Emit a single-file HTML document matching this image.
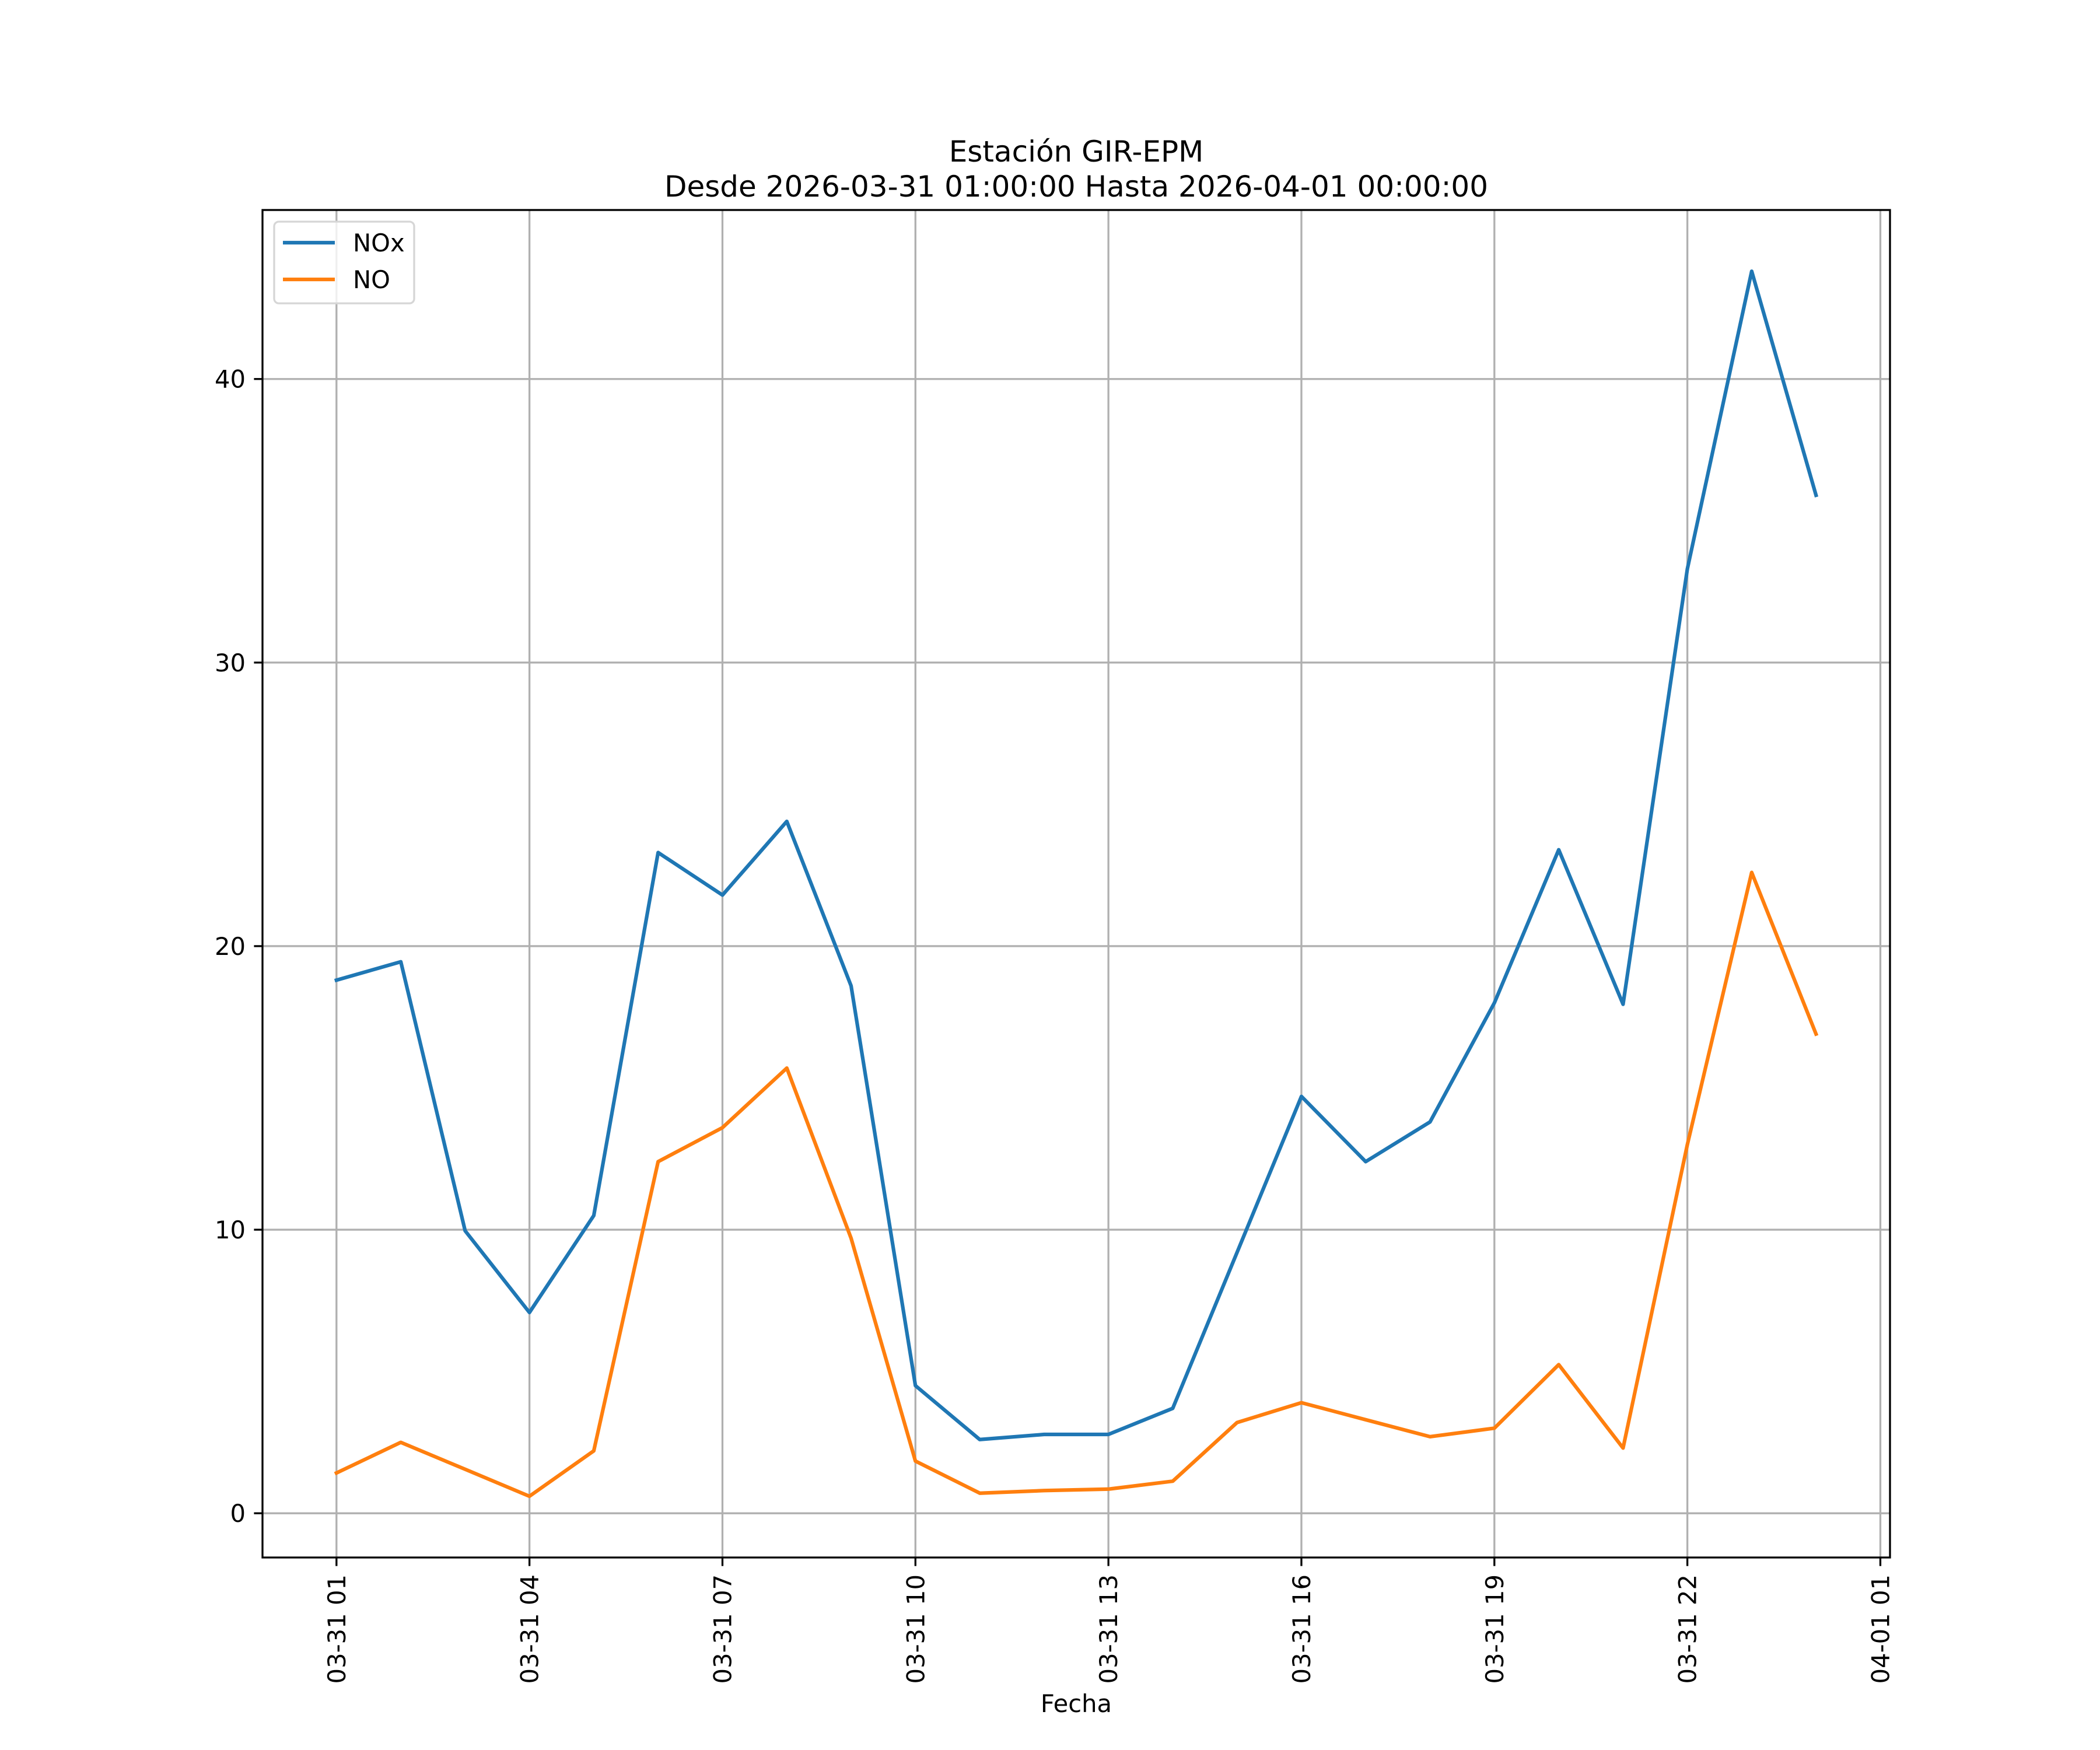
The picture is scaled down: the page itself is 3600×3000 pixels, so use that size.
<!DOCTYPE html>
<html><head><meta charset="utf-8"><style>
html,body{margin:0;padding:0;background:#fff;}
svg{display:block;font-family:"DejaVu Sans","Liberation Sans",sans-serif;}
</style></head><body>
<svg id="chart" width="3600" height="3000" viewBox="0 0 3600 3000">
<rect width="3600" height="3000" fill="#fff"/>
<text x="1845" y="277" font-size="50" text-anchor="middle">Estación GIR-EPM</text>
<text x="1845" y="337" font-size="50" text-anchor="middle">Desde 2026-03-31 01:00:00 Hasta 2026-04-01 00:00:00</text>
<g id="grid"></g>
<g id="series"></g>
<rect x="450" y="360" width="2790" height="2310" fill="none" stroke="#000" stroke-width="3.3"/>
<g id="ticks"></g>
<text x="1845" y="2935" font-size="41.7" text-anchor="middle">Fecha</text>
<g>
<rect x="470" y="380" width="240" height="140" rx="8" fill="#fff" fill-opacity="0.8" stroke="#d6d6d6" stroke-width="3.3"/>
<line x1="485" y1="416" x2="574" y2="416" stroke="#1f77b4" stroke-width="6.25"/>
<text x="605" y="431" font-size="41.7">NOx</text>
<line x1="485" y1="479" x2="574" y2="479" stroke="#ff7f0e" stroke-width="6.25"/>
<text x="605" y="494" font-size="41.7">NO</text>
</g>
</svg>
<script>
const hours = [0,1,2,3,4,5,6,7,8,9,10,11,12,13,14,15,16,17,18,19,20,21,22,23];
const noxValues = [18.8,19.45,9.96,7.08,10.5,23.3,21.8,24.4,18.6,4.5,2.6,2.78,2.78,3.7,9.2,14.7,12.4,13.8,18.0,23.4,17.95,33.3,43.8,35.9];
const noValues = [1.42,2.5,1.55,0.6,2.2,12.4,13.6,15.7,9.7,1.84,0.71,0.8,0.85,1.13,3.2,3.9,3.3,2.7,3.0,5.24,2.3,13.0,22.6,16.9];
const xTickHours = [0,3,6,9,12,15,18,21,24];
const xTickLabels = ["03-31 01","03-31 04","03-31 07","03-31 10","03-31 13","03-31 16","03-31 19","03-31 22","04-01 01"];
const yTicks = [0,10,20,30,40];

const NS="http://www.w3.org/2000/svg";
const L=450,R=3240,T=360,B=2670;
const allV=noxValues.concat(noValues);
const vmin=Math.min(...allV), vmax=Math.max(...allV), vr=vmax-vmin;
const ymin=vmin-0.05*vr, ymax=vmax+0.05*vr;
const hmin=hours[0], hmax=hours[hours.length-1], hr=hmax-hmin;
const xmin=hmin-0.05*hr, xmax=hmax+0.05*hr;
function xs(h){return L+(h-xmin)/(xmax-xmin)*(R-L);}
function ys(v){return B-(v-ymin)/(ymax-ymin)*(B-T);}
function mk(tag,attrs,parent,text){const e=document.createElementNS(NS,tag);for(const k in attrs)e.setAttribute(k,attrs[k]);if(text!==undefined)e.textContent=text;parent.appendChild(e);return e;}
const grid=document.getElementById('grid'), ticks=document.getElementById('ticks'), series=document.getElementById('series');
xTickHours.forEach((h,i)=>{
  const x=xs(h);
  const g=mk('line',{x1:x,y1:T,x2:x,y2:B,stroke:'#b0b0b0','stroke-width':3.3},grid);
  
  
  const t=mk('line',{x1:x,y1:B,x2:x,y2:B+14.6,stroke:'#000','stroke-width':3.3},ticks);
  
  
  const lb=mk('text',{x:0,y:0,'font-size':41.7,'text-anchor':'end',transform:`translate(${x+15},${B+29}) rotate(-90)`},ticks,xTickLabels[i]);
  
  
});
yTicks.forEach(v=>{
  const y=ys(v);
  const g=mk('line',{x1:L,y1:y,x2:R,y2:y,stroke:'#b0b0b0','stroke-width':3.3},grid);
  
  
  const t=mk('line',{x1:L-14.6,y1:y,x2:L,y2:y,stroke:'#000','stroke-width':3.3},ticks);
  
  
  const lb=mk('text',{x:L-29,y:y+15,'font-size':41.7,'text-anchor':'end'},ticks,String(v));
  
  
});
function drawLine(vals,color,name){
  const pts=vals.map((v,i)=>xs(hours[i]).toFixed(1)+','+ys(v).toFixed(1)).join(' ');
  const p=mk('polyline',{points:pts,fill:'none',stroke:color,'stroke-width':6.25,'stroke-linejoin':'round','stroke-linecap':'square'},series);
  
  
}
drawLine(noxValues,'#1f77b4','nox-line');
drawLine(noValues,'#ff7f0e','no-line');
</script>
</body></html>
